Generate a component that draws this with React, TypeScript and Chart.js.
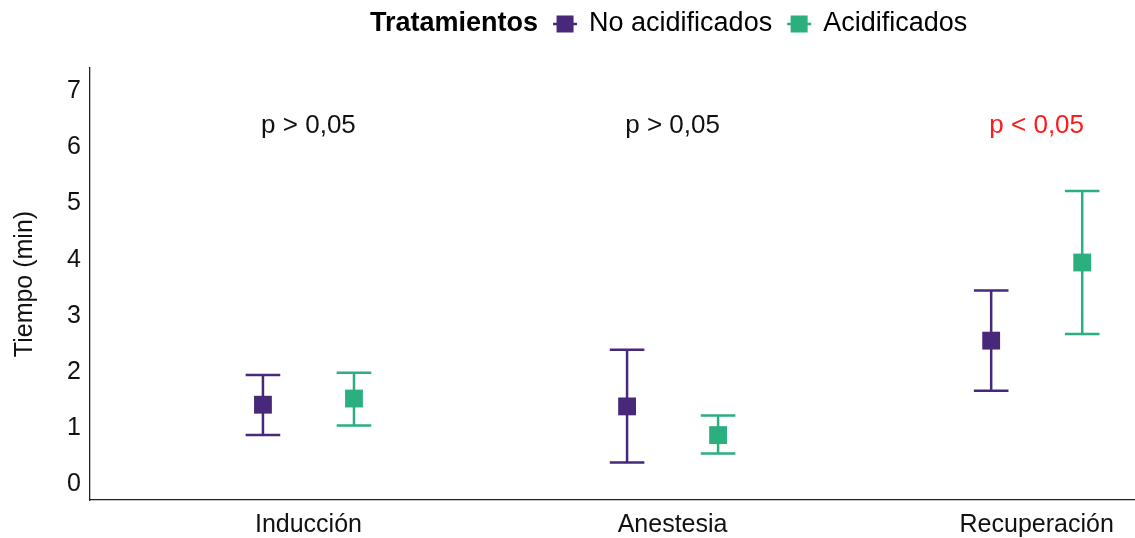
import React, { useEffect, useRef } from 'react';
import { Chart, registerables } from 'chart.js';

Chart.register(...registerables);

// ---- data ----
const categories = ['Inducción', 'Anestesia', 'Recuperación'];
const seriesNames = ['No acidificados', 'Acidificados'];
const legendTitle = 'Tratamientos';
const noAcidMean = [1.42, 1.39, 2.56];
const noAcidLow = [0.88, 0.39, 1.67];
const noAcidHigh = [1.95, 2.4, 3.45];
const acidMean = [1.53, 0.88, 3.95];
const acidLow = [1.05, 0.55, 2.68];
const acidHigh = [1.99, 1.23, 5.22];
const yTicks = [0, 1, 2, 3, 4, 5, 6, 7];
const pLabels = ['p > 0,05', 'p > 0,05', 'p < 0,05'];
const pLabelY = 6.39;
const yTitle = 'Tiempo (min)';

// ---- style ----
const FONT = '"Liberation Sans", Arial, sans-serif';
const COLORS = ['#482878', '#2BAF7F'];
const P_COLORS = ['#111111', '#111111', '#FF1A1A'];
const DODGE = 0.125;
const CAP_HALF = 0.0475;
const W = 1135;
const H = 538;

const errorBarPlugin = {
  id: 'errorBars',
  beforeDatasetsDraw(chart: any) {
    const { ctx, scales } = chart;
    const xs = scales.x;
    const ys = scales.y;
    chart.data.datasets.forEach((ds: any) => {
      ctx.save();
      ctx.strokeStyle = ds.backgroundColor;
      ctx.lineWidth = 2.5;
      ctx.lineCap = 'butt';
      ds.data.forEach((p: any) => {
        const x = xs.getPixelForValue(p.x);
        const cw = xs.getPixelForValue(p.x + CAP_HALF) - x;
        const yl = ys.getPixelForValue(p.low);
        const yh = ys.getPixelForValue(p.high);
        ctx.beginPath();
        ctx.moveTo(x, yl);
        ctx.lineTo(x, yh);
        ctx.moveTo(x - cw, yl);
        ctx.lineTo(x + cw, yl);
        ctx.moveTo(x - cw, yh);
        ctx.lineTo(x + cw, yh);
        ctx.stroke();
      });
      ctx.restore();
    });
  },
};

const annotationPlugin = {
  id: 'pTexts',
  afterDraw(chart: any) {
    const { ctx, scales } = chart;
    ctx.save();
    ctx.font = `26px ${FONT}`;
    ctx.textAlign = 'center';
    ctx.textBaseline = 'middle';
    pLabels.forEach((t, i) => {
      ctx.fillStyle = P_COLORS[i];
      ctx.fillText(t, scales.x.getPixelForValue(i + 1), scales.y.getPixelForValue(pLabelY));
    });
    ctx.restore();

    // legend
    ctx.save();
    ctx.textBaseline = 'middle';
    ctx.textAlign = 'left';
    const cy = 24;
    let x = 370;
    ctx.fillStyle = '#000';
    ctx.font = `bold 27px ${FONT}`;
    ctx.fillText(legendTitle, x, cy);
    x += ctx.measureText(legendTitle).width + 15;
    ctx.font = `27px ${FONT}`;
    seriesNames.forEach((name, i) => {
      const gw = 24;
      ctx.strokeStyle = COLORS[i];
      ctx.fillStyle = COLORS[i];
      ctx.lineWidth = 2.5;
      ctx.beginPath();
      ctx.moveTo(x, cy);
      ctx.lineTo(x + gw, cy);
      ctx.stroke();
      ctx.fillRect(x + gw / 2 - 8.5, cy - 8.5, 17, 17);
      x += gw + 12;
      ctx.fillStyle = '#000';
      ctx.fillText(name, x, cy);
      x += ctx.measureText(name).width + 15;
    });
    ctx.restore();
  },
};

export default function App() {
  const ref = useRef<HTMLCanvasElement | null>(null);
  useEffect(() => {
    document.body.style.margin = '0';
    const canvas = ref.current;
    if (!canvas) return;
    const means = [noAcidMean, acidMean];
    const lows = [noAcidLow, acidLow];
    const highs = [noAcidHigh, acidHigh];
    const chart = new Chart(canvas, {
      type: 'scatter',
      data: {
        datasets: seriesNames.map((name, s) => ({
          label: name,
          data: categories.map((_, i) => ({
            x: i + 1 + (s === 0 ? -DODGE : DODGE),
            y: means[s][i],
            low: lows[s][i],
            high: highs[s][i],
          })),
          backgroundColor: COLORS[s],
          borderColor: COLORS[s],
          borderWidth: 0,
          pointStyle: 'rect',
          pointRadius: 12.6,
          pointHoverRadius: 12.6,
        })),
      },
      options: {
        responsive: false,
        animation: false,
        events: [],
        layout: { autoPadding: false, padding: { top: 68, left: 0, right: 0, bottom: 0 } },
        plugins: {
          legend: { display: false },
          tooltip: { enabled: false },
        },
        scales: {
          x: {
            type: 'linear',
            min: 0.4,
            max: 3.27,
            grid: { display: false },
            border: { display: true, color: '#222', width: 1.3 },
            afterBuildTicks: (scale: any) => {
              scale.ticks = categories.map((_, i) => ({ value: i + 1 }));
            },
            afterFit: (scale: any) => {
              scale.height = 38;
            },
            ticks: {
              autoSkip: false,
              maxRotation: 0,
              padding: 2,
              color: '#111',
              font: { family: FONT, size: 25 },
              callback: (v: any) => categories[Math.round(v) - 1],
            },
          },
          y: {
            type: 'linear',
            min: -0.275,
            max: 7.41,
            grid: { display: false },
            border: { display: true, color: '#222', width: 1.3 },
            afterBuildTicks: (scale: any) => {
              scale.ticks = yTicks.map((v) => ({ value: v }));
            },
            afterFit: (scale: any) => {
              scale.width = 90;
            },
            ticks: {
              padding: 1,
              color: '#111',
              font: { family: FONT, size: 25 },
            },
            title: {
              display: true,
              text: yTitle,
              color: '#111',
              font: { family: FONT, size: 25 },
              padding: { top: 10, bottom: 0 },
            },
          },
        },
      },
      plugins: [errorBarPlugin, annotationPlugin],
    } as any);
    return () => chart.destroy();
  }, []);
  return (
    <div style={{ position: 'absolute', left: 0, top: 0, width: W, height: H, background: '#fff' }}>
      <canvas ref={ref} width={W} height={H} style={{ width: W, height: H, display: 'block' }} />
    </div>
  );
}
